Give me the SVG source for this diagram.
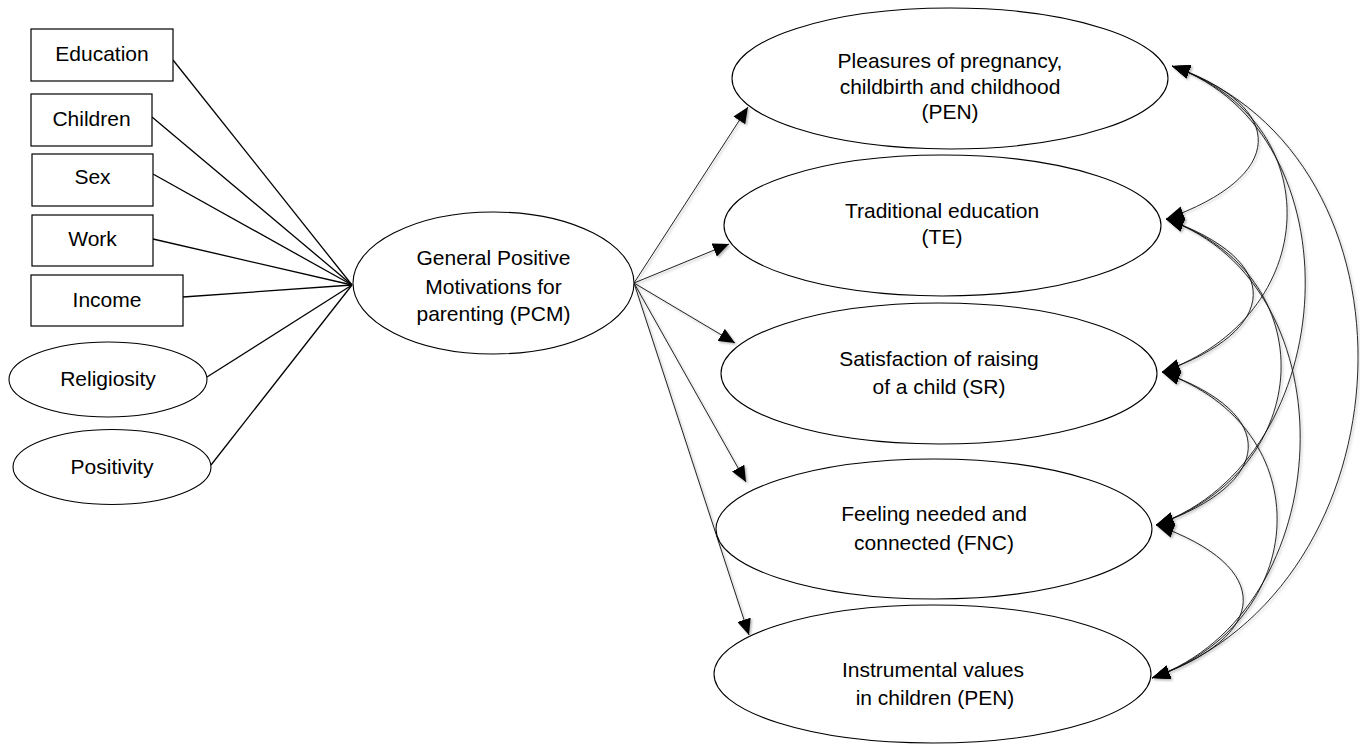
<svg xmlns="http://www.w3.org/2000/svg" width="1360" height="744" viewBox="0 0 1360 744">
<style>
.box{fill:#fff;stroke:#000;stroke-width:1.2}
.ell{fill:#fff;stroke:#000;stroke-width:1.1}
.t{font-family:"Liberation Sans",Arial,sans-serif;font-size:21px;fill:#000;text-anchor:middle}
.ln{stroke:#000;stroke-width:1.3;fill:none}
.ar{stroke:#222;stroke-width:1;fill:none;marker-end:url(#ah)}
.cv{stroke:#111;stroke-width:0.9;fill:none;marker-start:url(#ah2);marker-end:url(#ah2)}
</style>
<defs>
<marker id="ah" markerUnits="userSpaceOnUse" viewBox="0 0 16 14" refX="16" refY="7" markerWidth="16" markerHeight="14" orient="auto-start-reverse">
<path d="M0,0 L16,7 L0,14 z" fill="#000"/>
</marker>
<marker id="ah2" markerUnits="userSpaceOnUse" viewBox="0 0 18 14" refX="18" refY="7" markerWidth="18" markerHeight="14" orient="auto-start-reverse">
<path d="M0,0 L18,7 L0,14 z" fill="#000"/>
</marker>
<filter id="sh" x="-10%" y="-10%" width="120%" height="120%">
<feDropShadow dx="1.5" dy="1.5" stdDeviation="1" flood-color="#000" flood-opacity="0.3"/>
</filter>
</defs>
<rect width="1360" height="744" fill="#fff"/>
<g id="connectors">
<g id="predictor-lines">
<line class="ln" x1="173" y1="60" x2="352" y2="285"/>
<line class="ln" x1="152" y1="117" x2="352" y2="285"/>
<line class="ln" x1="153" y1="174" x2="352" y2="285"/>
<line class="ln" x1="153" y1="239" x2="352" y2="285"/>
<line class="ln" x1="183" y1="297" x2="352" y2="285"/>
<line class="ln" x1="207" y1="377" x2="352" y2="285"/>
<line class="ln" x1="211" y1="465" x2="352" y2="285"/>
</g>
<g id="loading-arrows" filter="url(#sh)">
<line class="ar" x1="634" y1="283" x2="748" y2="107"/>
<line class="ar" x1="634" y1="283" x2="729" y2="244"/>
<line class="ar" x1="634" y1="283" x2="735" y2="343"/>
<line class="ar" x1="634" y1="283" x2="746" y2="482"/>
<line class="ar" x1="634" y1="283" x2="749" y2="635"/>
</g>
<g id="covariances" filter="url(#sh)">
<path class="cv" d="M1172,66 C1291,108 1285,177 1166,219"/>
<path class="cv" d="M1166,219 C1285,261 1281,330 1162,372"/>
<path class="cv" d="M1162,372 C1281,414 1275,483 1156,525"/>
<path class="cv" d="M1156,525 C1275,567 1271,636 1152,678"/>
<path class="cv" d="M1172,66 C1332,122 1322,316 1162,372"/>
<path class="cv" d="M1166,219 C1326,275 1316,469 1156,525"/>
<path class="cv" d="M1162,372 C1322,428 1312,622 1152,678"/>
<path class="cv" d="M1172,66 C1360,132 1344,459 1156,525"/>
<path class="cv" d="M1166,219 C1354,285 1340,612 1152,678"/>
<path class="cv" d="M1172,66 C1433,157 1413,587 1152,678"/>
</g>
</g>
<g id="education"><rect class="box" x="31" y="29" width="142" height="52"/><text class="t" x="102" y="61">Education</text></g>
<g id="children"><rect class="box" x="31" y="94" width="121" height="52"/><text class="t" x="91.5" y="126">Children</text></g>
<g id="sex"><rect class="box" x="32" y="154" width="121" height="52"/><text class="t" x="92.5" y="184">Sex</text></g>
<g id="work"><rect class="box" x="32" y="215" width="121" height="51"/><text class="t" x="92.5" y="246">Work</text></g>
<g id="income"><rect class="box" x="31" y="275" width="152" height="51"/><text class="t" x="107" y="307">Income</text></g>
<g id="religiosity"><ellipse class="ell" cx="108" cy="379.5" rx="99" ry="37.5"/><text class="t" x="108" y="386">Religiosity</text></g>
<g id="positivity"><ellipse class="ell" cx="112" cy="467" rx="99" ry="37.5"/><text class="t" x="112" y="474">Positivity</text></g>
<g id="pcm"><ellipse class="ell" cx="493.5" cy="283" rx="140.5" ry="71"/>
<text class="t" x="493.5" y="265">General Positive</text>
<text class="t" x="493.5" y="294">Motivations for</text>
<text class="t" x="493.5" y="321">parenting (PCM)</text></g>
<g id="pen"><ellipse class="ell" cx="950" cy="78.5" rx="218" ry="70.5"/>
<text class="t" x="950" y="68">Pleasures of pregnancy,</text>
<text class="t" x="950" y="94">childbirth and childhood</text>
<text class="t" x="950" y="119">(PEN)</text></g>
<g id="te"><ellipse class="ell" cx="942.5" cy="225.5" rx="218.5" ry="70.5"/>
<text class="t" x="942" y="218">Traditional education</text>
<text class="t" x="942" y="244">(TE)</text></g>
<g id="sr"><ellipse class="ell" cx="939" cy="373.5" rx="218" ry="70.5"/>
<text class="t" x="939" y="366">Satisfaction of raising</text>
<text class="t" x="939" y="394">of a child (SR)</text></g>
<g id="fnc"><ellipse class="ell" cx="934" cy="529" rx="218" ry="70"/>
<text class="t" x="934" y="521">Feeling needed and</text>
<text class="t" x="934" y="550">connected (FNC)</text></g>
<g id="iv"><ellipse class="ell" cx="932.5" cy="674" rx="218.5" ry="69"/>
<text class="t" x="933" y="677">Instrumental values</text>
<text class="t" x="935" y="705">in children (PEN)</text></g>
</svg>
